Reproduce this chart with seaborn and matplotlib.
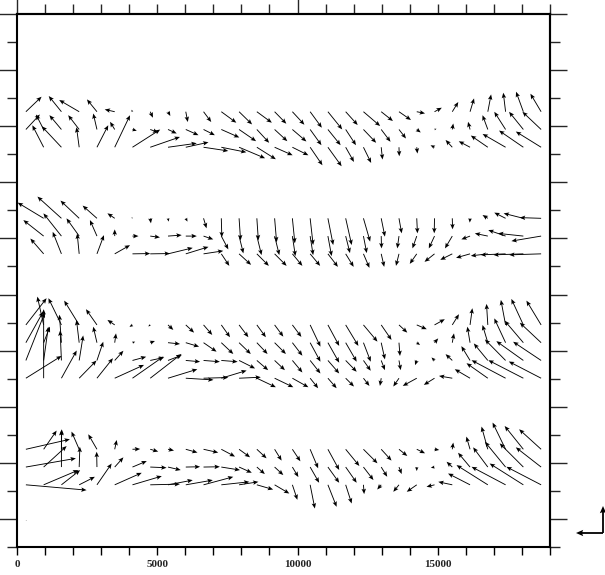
import numpy as np
import matplotlib
matplotlib.use("Agg")
import matplotlib.pyplot as plt
from matplotlib.ticker import FixedLocator, FuncFormatter
import seaborn as sns

nan = np.nan

# ---------------- data ----------------
x_max = 19000
y_max = 19000
n_cells = 30
x_ticklabels = [0, 5000, 10000, 15000]

# vector components per grid row (row index -> u, v); NaN = no vector
u_r24 = [15.7, nan, -12.7, -20, -10, -10, -1, 2.7, 2.3, 2, 7.7, 15, 13, 15, 11.7, 12, 11.7, 14.3, 12, 16.7, 11.7, 12, 8.3, 7.3, 6, 4, 3.3, -2.3, -7.3, -10.7]
v_r24 = [15, nan, 15.7, 11.7, 12.3, 2.3, 2, -6, -4.3, -10.3, -10.3, -11, -12.7, -11, -12, -13, -16, -17.7, -13.3, -14.3, -9.3, -8.3, -1.7, 4, 9.7, 13.3, 17.3, 19, 20, 18]
u_r23 = [14, -7.7, -12, -11, -3.7, -4.7, 4.3, 8, 8.7, 12.7, 11.3, 18, 17, 12.3, 12.7, 14, 11.3, 12.7, 10.3, 12.7, 9.3, 7, 4, 2, 1, -2, -5.3, -11.3, -14.3, -18.7]
v_r23 = [15, 15, 14.3, 14.3, 16, 7.7, -1.3, -3, -4, -5.7, -5.7, -8, -11.7, -13.3, -11.7, -12, -15.7, -15.7, -15.7, -13.3, -12.3, -9, -3, 0.7, 6, 7.7, 14.3, 17.7, 17.7, 17.7]
u_r22 = [nan, -11.3, -19.7, -2.7, 11.3, 15.3, 27.7, 29.7, 28.7, 22.7, 24.7, 25, 26, 19, 18, 16, 12.3, 13.7, 8.3, 7.7, 1.3, 0.3, 0.7, -4, -6.7, -11.3, -17, -23, -24.3, -25.3]
v_r22 = [nan, 22, 21, 20, 22, 32, 17.7, 10.3, 4, 5, -3.7, -5, -11, -12, -8, -8, -18, -19, -14.7, -15.7, -12.3, -9, -6.3, 2, 7.3, 6, 11.7, 13.3, 16.7, 15.7]

u_r18 = [nan, -26, -24, -18.7, -14.3, -7.3, -1, 0.7, 0.7, 1.7, 3, 0.5, 1.5, 1.5, 2, 2.5, 3, 5.3, 6, 6.7, 3.7, 2.7, 0.7, -0.3, 0.3, -0.3, -5.3, -11.3, -19.7, -21.3]
v_r18 = [nan, 15.7, 21.7, 17.7, 12.7, 5, 1, -5, -3.3, -3.3, -10, -19, -22, -22, -24, -25, -26.7, -26.7, -26.7, -23.3, -18.3, -15, -15, -15, -11, -4.3, 3.3, 5.7, 5, 0.7]
u_r17 = [nan, -20.3, -18, -12.7, -7, 0, 6, 9.7, 13.7, 11, 9.7, 7, 4.3, 4.7, 4.7, 3, 3, 3.7, 4.3, 3.3, 0.3, -1.7, -4.3, -5.7, -7.3, -8.7, -13, -17.3, -25.3, -29.7]
v_r17 = [nan, 16, 22.7, 17.7, 16, 6.7, 0, -1.3, 1, 0, -3.3, -13.3, -17.3, -19, -19, -20, -19, -20, -17, -17, -12.3, -12.3, -12.3, -12.3, -12.3, -3.3, 2.7, 6, 2.7, -5]
u_r16 = [nan, -13.3, -8.7, -2, 7, 15.3, 17.7, 19.7, 24.7, 22.7, 19.7, 8, 12, 12, 12, 10, 10, 10, 8, 6, 3, -3, -7, -10, -12, -14, -17, -25, -30, -32]
v_r16 = [nan, 15.3, 22, 20.3, 18.7, 8.7, 0.3, 0.3, 6, 7, 3, -12, -11, -12, -12, -12, -12, -13, -13, -14, -13, -12, -10, -8, -6, -4, -2, -1, -1, -1]

u_r12 = [20.7, -6.3, -13, -15, -11, -7.3, -3, -2, 5.3, 8.3, 8.7, 8.7, 9.3, 9, 8.7, 9, 10.3, 11.3, 12.7, 14, 10.3, 8.3, 10, 10.3, 6.7, 2.3, -1.3, -4.7, -12, -14.7]
v_r12 = [26.7, 28.3, 26.7, 24.3, 15.7, 5, -2, -1.5, -5, -7.7, -10, -12.3, -12.3, -12.3, -11.7, -12, -21.7, -21, -21, -16.7, -15, -7.7, -4.3, 5.7, 10.7, 16.7, 21, 25, 26, 24.3]
u_r11 = [17.3, 6.3, -2, -2.7, -3.7, 1.3, 2.7, 4.7, 12, 13.3, 13, 12, 11.7, 10.7, 11.3, 10, 10.3, 11.3, 11, 7.3, 3.7, 1, 3.3, 3.7, 1.7, -2.7, -5.3, -11.3, -18.7, -21.3]
v_r11 = [31, 16, 28, 22.7, 16, 9.3, 1, 1.7, -1.3, -4, -9, -11.3, -11.3, -11.3, -11.3, -13, -19, -20, -19, -19, -16.7, -13.3, -2.3, 4.3, 9.3, 16, 17.7, 24.3, 22, 20]
u_r10 = [19, 4.7, -1.3, 4, 6.3, 8.7, 13.7, 14, 13.7, 14.3, 16.3, 16.3, 16, 11.3, 10.3, 10, 10.3, 11.3, 11, 7.3, 3.7, 1.7, -1.7, -3, -6.7, -8.7, -14, -20.7, -27, -28]
v_r10 = [48, 33.7, 30, 25, 18.7, 9.7, 3.7, 3, 5.3, -1.3, -1.3, -1.3, -8, -9.7, -9.7, -12, -13, -13, -11.3, -10.3, -9.7, -9.7, -4.7, 3, 6.3, 14.3, 17, 21, 19.3, 18.7]
u_r9 = [35.7, 0, 15.3, 17.3, 16, 29.3, 31, 31.3, 29.3, 27.7, 24.7, 25.3, 21.7, 19, 18.7, 16, 8, 8.7, 8.3, 6, -1.3, -5.7, -14, -10.7, -13.3, -15.3, -21.3, -34, -35, -32.3]
v_r9 = [22.3, 69, 27.7, 17.7, 20, 13.3, 21.7, 24.3, 9, -1.7, 0.7, 7.7, 1, -9, -9, -9, -10, -10, -8.3, -7.7, -7.7, -8.3, -7.7, -6.7, 2.3, 9, 15, 18, 18, 16.7]

u_r5 = [44, 13, 0.3, -7.7, -8.7, 2, 7.7, 8, 6, 11.7, 14.7, 13.7, 11, 9.7, 7, 8, 8, 11.3, 13.7, 14, 10.3, 8.3, 8.3, 4.7, 1, -3.7, -6.3, -13, -18.7, -22]
v_r5 = [10, 18.7, 20, 17.7, 15, 9.3, 0.3, -2.3, -1.3, -3.3, -3.3, -7.3, -8, -9, -11.3, -12, -19, -20.7, -16.7, -14, -11.3, -6.7, -4, -0.7, 6.7, 12.7, 22.7, 26.7, 23.3, 20]
u_r4 = [50, 23, 0, 0.7, -0.3, 8.7, 14.3, 16.3, 12.7, 14.3, 16.3, 18.7, 12.7, 8, 8.7, 6, 9, 11.3, 11, 10, 6, 2.7, 0, -3.7, -5.7, -12, -14.7, -20.7, -23.7, -25.3]
v_r4 = [8.7, 21, 37, 20.3, 15.3, 9.7, 6, -0.7, -3, 0.3, 0.3, -3, -5.7, -7, -8, -10, -15.7, -15.7, -15.7, -13, -9.7, -7, -4, -0.7, 5.3, 14.3, 19.7, 25.3, 23.7, 19.7]
u_r3 = [60.7, 34.7, 18.7, 15.7, 14.7, 27, 29.3, 29.7, 24.7, 27, 29.7, 28, 19.3, 16.3, 14.7, 5, 4.7, 8.7, 6, 0.7, -4, -5.7, -10, -8, -14, -22, -31.3, -34, -33.7, -34.7]
v_r3 = [-5.3, 14.7, 14.7, 8, 21.3, 12, 8.7, 0.7, 4.7, 4.7, 8, 3, 3, -4.7, -8.7, -15, -23.7, -22, -18.7, -9.3, -4.7, -7, -7, -2, 3, 11.3, 19.7, 18, 21.3, 18]
u_r1 = [0.8] + [nan] * 29
v_r1 = [0.0] + [nan] * 29

ref_vector = 27  # length of the reference (legend) vectors

rows = {24: (u_r24, v_r24), 23: (u_r23, v_r23), 22: (u_r22, v_r22),
        18: (u_r18, v_r18), 17: (u_r17, v_r17), 16: (u_r16, v_r16),
        12: (u_r12, v_r12), 11: (u_r11, v_r11), 10: (u_r10, v_r10), 9: (u_r9, v_r9),
        5: (u_r5, v_r5), 4: (u_r4, v_r4), 3: (u_r3, v_r3), 1: (u_r1, v_r1)}

# ---------------- build ----------------
cell = x_max / n_cells
centers = cell * (np.arange(n_cells) + 0.5)
X, Y, U, V = [], [], [], []
for j, (u, v) in rows.items():
    for i in range(n_cells):
        if np.isfinite(u[i]):
            X.append(centers[i]); Y.append(centers[j]); U.append(u[i]); V.append(v[i])
X, Y, U, V = map(np.array, (X, Y, U, V))

sns.set_theme(style="white")
plt.rcParams['font.family'] = ['Liberation Serif', 'DejaVu Serif']

W, H = 605, 575
fig = plt.figure(figsize=(W / 100, H / 100), dpi=100)
ax = fig.add_axes([17 / W, (H - 547) / H, 533 / W, 533 / H])
ax.set_xlim(0, x_max)
ax.set_ylim(0, y_max)

px = x_max / 533.0  # data units per pixel
ax.quiver(X, Y, U, V, angles='xy', scale_units='xy', scale=1 / px,
          units='dots', width=0.9, headwidth=5, headlength=6,
          headaxislength=5, minshaft=1, minlength=0.8, color='black', pivot='tail')

# reference vectors (outside the frame, bottom right)
cx, cy = (603 - 17) * px, 14 * px
ax.quiver([cx, cx], [cy, cy], [-ref_vector, 0], [0, ref_vector], angles='xy',
          scale_units='xy', scale=1 / px, units='dots', width=1.8, headwidth=3.5,
          headlength=4, headaxislength=3.5, color='black', clip_on=False)

for s in ax.spines.values():
    s.set_linewidth(1.5)
    s.set_color('black')

thousands = np.arange(0, x_max + 1, 1000)
ax.xaxis.set_major_locator(FixedLocator(thousands))
ax.xaxis.set_major_formatter(FuncFormatter(lambda v, p: f"{int(v)}" if int(v) in x_ticklabels else ""))
ax.tick_params(axis='x', which='major', direction='out', length=6, width=1, color='black',
               bottom=True, top=False, labelsize=8, pad=3.5)
for lab in ax.get_xticklabels():
    lab.set_fontweight('bold')

odd = thousands[1::2]
even = thousands[0::2]
ax.yaxis.set_major_locator(FixedLocator(odd))
ax.yaxis.set_minor_locator(FixedLocator(even))
ax.tick_params(axis='y', which='major', direction='out', length=14, width=1, left=True, labelleft=False)
ax.tick_params(axis='y', which='minor', direction='out', length=7, width=1, left=True, labelleft=False)

top = ax.secondary_xaxis('top')
top.xaxis.set_major_locator(FixedLocator([0, 10000]))
top.xaxis.set_minor_locator(FixedLocator(thousands))
top.tick_params(which='major', direction='out', length=14, width=1, labeltop=False)
top.tick_params(which='minor', direction='out', length=7, width=1)
top.spines['top'].set_linewidth(1.5)

right = ax.secondary_yaxis('right')
right.yaxis.set_major_locator(FixedLocator(odd))
right.yaxis.set_minor_locator(FixedLocator(even))
right.tick_params(which='major', direction='out', length=12, width=1, labelright=False)
right.tick_params(which='minor', direction='out', length=7, width=1)
right.spines['right'].set_linewidth(1.5)

fig.savefig("out.png", dpi=100, facecolor='white')
